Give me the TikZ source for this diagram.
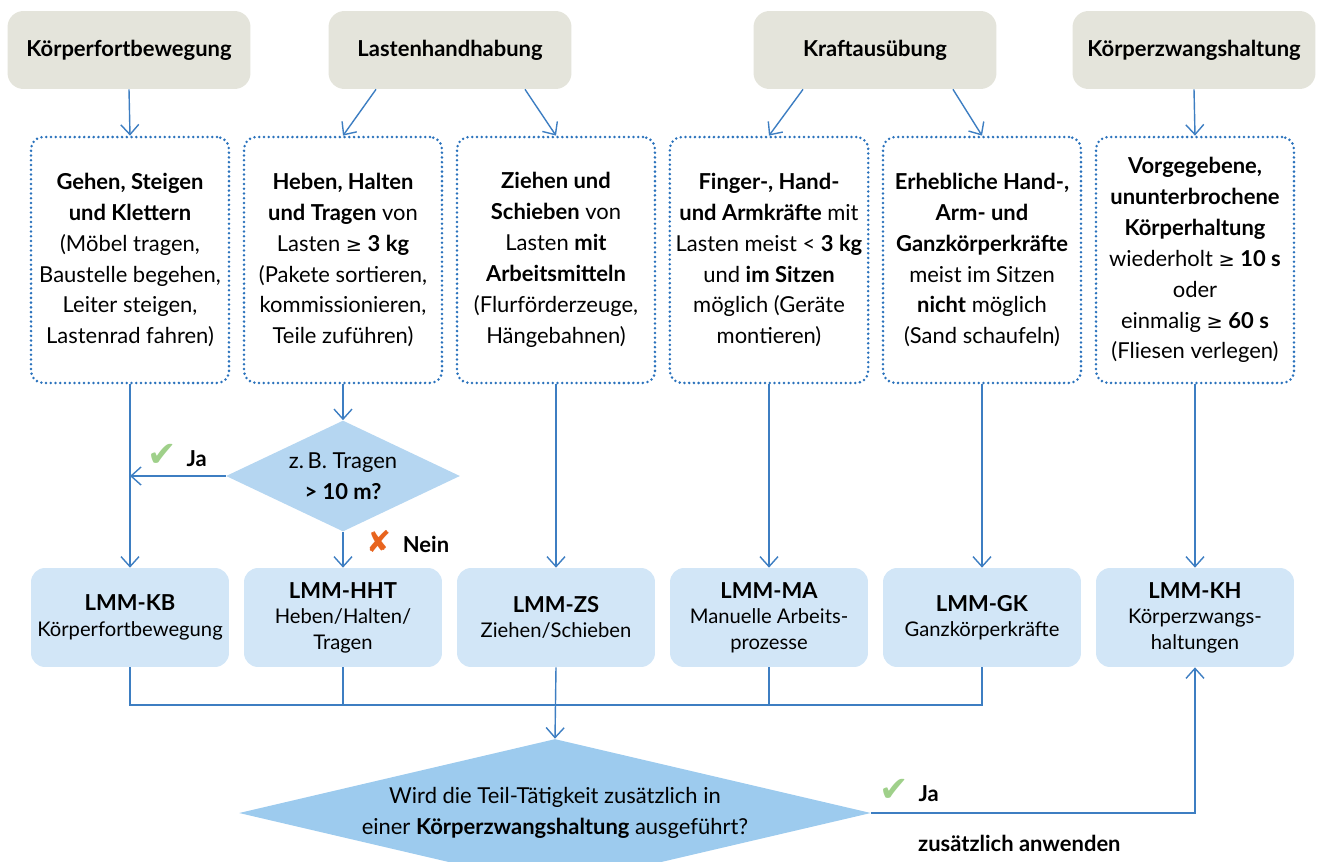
\documentclass[tikz,border=0pt]{standalone}
\usepackage{fontspec}
\setmainfont{Lato}
\newfontfamily\symb{DejaVu Sans}
\usetikzlibrary{arrows.meta}
\usetikzlibrary{shapes.geometric}

\definecolor{linienblau}{HTML}{3D7EC2}
\definecolor{punktblau}{HTML}{2A72BC}
\definecolor{kopfgrau}{HTML}{E4E4DB}
\definecolor{lmmblau}{HTML}{D2E6F7}
\definecolor{frageblau}{HTML}{B5D6F1}
\definecolor{frageblaudunkel}{HTML}{9DCBEE}
\definecolor{jagruen}{HTML}{9FD08A}
\definecolor{neinorange}{HTML}{E8641E}

\newcommand{\mindest}{{\symb\fontsize{11}{11}\selectfont ≥}}
\newcommand{\haken}{{\symb\fontsize{20}{20}\selectfont\color{jagruen}✔}}
\newcommand{\kreuz}{{\symb\fontsize{17}{17}\selectfont\color{neinorange}✘}}

\begin{document}
\begin{tikzpicture}[x=0.02cm, y=-0.02cm,
  font=\fontsize{12.5}{17.6}\selectfont,
  kopf/.style={fill=kopfgrau, rounded corners=0.32cm, minimum width=4.86cm, minimum height=1.56cm, font=\fontsize{12.5}{17.6}\selectfont\bfseries},
  feld/.style={draw=punktblau, line width=1.6pt, line cap=round, dash pattern=on 0pt off 2.7pt, rounded corners=0.24cm, minimum width=3.96cm, minimum height=4.92cm, align=center},
  lmm/.style={fill=lmmblau, rounded corners=0.28cm, minimum width=3.96cm, minimum height=1.98cm, align=center, font=\fontsize{11.5}{14.5}\selectfont},
  frage/.style={diamond, inner sep=0pt},
  verbinder/.style={draw=linienblau, line width=0.8pt},
  pfeil/.style={verbinder, -{Straight Barb[length=0.2cm, width=0.36cm]}},
]
  \useasboundingbox (0,0) rectangle (1322,862);
  \clip (0,0) rectangle (1322,862);

  % Kopfzeile
  \node [kopf] (kopf1) at (129,50) {Körperfortbewegung};
  \node [kopf] (kopf2) at (450,50) {Lastenhandhabung};
  \node [kopf] (kopf3) at (875,50) {Kraftausübung};
  \node [kopf] (kopf4) at (1194,50) {Körperzwangshaltung};

  % Beschreibungen
  \node [feld] (feld1) at (130,260) {\textbf{Gehen, Steigen}\\\textbf{und Klettern}\\(Möbel tragen,\\Baustelle begehen,\\Leiter steigen,\\Lastenrad fahren)};
  \node [feld] (feld2) at (343,260) {\textbf{Heben, Halten}\\\textbf{und Tragen} von\\Lasten \mindest\ \textbf{3 kg}\\(Pakete sortieren,\\kommissionieren,\\Teile zuführen)};
  \node [feld] (feld3) at (556,260) {\textbf{Ziehen und}\\\textbf{Schieben} von\\Lasten \textbf{mit}\\\textbf{Arbeitsmitteln}\\(Flurförderzeuge,\\Hängebahnen)};
  \node [feld] (feld4) at (769,260) {\textbf{Finger-, Hand-}\\\textbf{und Armkräfte} mit\\Lasten meist < \textbf{3 kg}\\und \textbf{im Sitzen}\\möglich (Geräte\\montieren)};
  \node [feld] (feld5) at (982,260) {\textbf{Erhebliche Hand-,}\\\textbf{Arm- und}\\\textbf{Ganzkörperkräfte}\\meist im Sitzen\\\textbf{nicht} möglich\\(Sand schaufeln)};
  \node [feld] (feld6) at (1195,260) {\textbf{Vorgegebene,}\\\textbf{ununterbrochene}\\\textbf{Körperhaltung}\\wiederholt \mindest\ \textbf{10 s}\\oder\\einmalig \mindest\ \textbf{60 s}\\(Fliesen verlegen)};

  % Methoden
  \node [lmm] (lmm1) at (130,617.5) {\textbf{\fontsize{12.5}{15}\selectfont LMM-KB}\\Körperfortbewegung};
  \node [lmm] (lmm2) at (343,617.5) {\textbf{\fontsize{12.5}{15}\selectfont LMM-HHT}\\Heben/Halten/\\Tragen};
  \node [lmm] (lmm3) at (556,617.5) {\textbf{\fontsize{12.5}{15}\selectfont LMM-ZS}\\Ziehen/Schieben};
  \node [lmm] (lmm4) at (769,617.5) {\textbf{\fontsize{12.5}{15}\selectfont LMM-MA}\\Manuelle Arbeits-\\prozesse};
  \node [lmm] (lmm5) at (982,617.5) {\textbf{\fontsize{12.5}{15}\selectfont LMM-GK}\\Ganzkörperkräfte};
  \node [lmm] (lmm6) at (1195,617.5) {\textbf{\fontsize{12.5}{15}\selectfont LMM-KH}\\Körperzwangs-\\haltungen};

  % Fragen
  \node [frage, fill=frageblau, minimum width=4.68cm, minimum height=2.22cm,
    label={[align=center]center:{z.\,B. Tragen\\\textbf{> 10 m?}}}] (frage1) at (343,476) {};
  \node [frage, fill=frageblaudunkel, minimum width=12.64cm, minimum height=2.96cm,
    label={[align=center]center:{Wird die Teil-Tätigkeit zusätzlich in\\einer \textbf{Körperzwangshaltung} ausgeführt?}}] (frage2) at (555,813) {};

  \node (ja1) at (177,455) {\haken\hspace{0.2cm}\textbf{Ja}};
  \node (nein) at (408,542) {\kreuz\hspace{0.22cm}\textbf{Nein}};
  \node (ja2) at (909,790) {\haken\hspace{0.2cm}\textbf{Ja}};
  \node [anchor=west] (zusatz) at (912,843) {\textbf{zusätzlich anwenden}};

  % Pfeile
  \draw [pfeil] (kopf1.south) -- (feld1.north);
  \draw [pfeil] ([xshift=-1.48cm]kopf2.south) -- (feld2.north);
  \draw [pfeil] ([xshift=1.5cm]kopf2.south) -- (feld3.north);
  \draw [pfeil] ([xshift=-1.44cm]kopf3.south) -- (feld4.north);
  \draw [pfeil] ([xshift=1.56cm]kopf3.south) -- (feld5.north);
  \draw [pfeil] (kopf4.south) -- (feld6.north);

  \draw [pfeil] (feld1.south) -- (lmm1.north);
  \draw [pfeil] (feld2.south) -- (frage1.north);
  \draw [pfeil] (frage1.south) -- (lmm2.north);
  \draw [pfeil] (frage1.west) -- (frage1.west -| feld1.south);
  \draw [pfeil] (feld3.south) -- (lmm3.north);
  \draw [pfeil] (feld4.south) -- (lmm4.north);
  \draw [pfeil] (feld5.south) -- (lmm5.north);
  \draw [pfeil] (feld6.south) -- (lmm6.north);

  \coordinate (sammel) at (556,705);
  \draw [verbinder] (lmm1.south) -- (lmm1.south |- sammel) -- (lmm5.south |- sammel) -- (lmm5.south);
  \draw [verbinder] (lmm2.south) -- (lmm2.south |- sammel);
  \draw [verbinder] (lmm4.south) -- (lmm4.south |- sammel);
  \draw [pfeil] (lmm3.south) -- (frage2.north);
  \draw [pfeil] (frage2.east) -| (lmm6.south);
\end{tikzpicture}
\end{document}
